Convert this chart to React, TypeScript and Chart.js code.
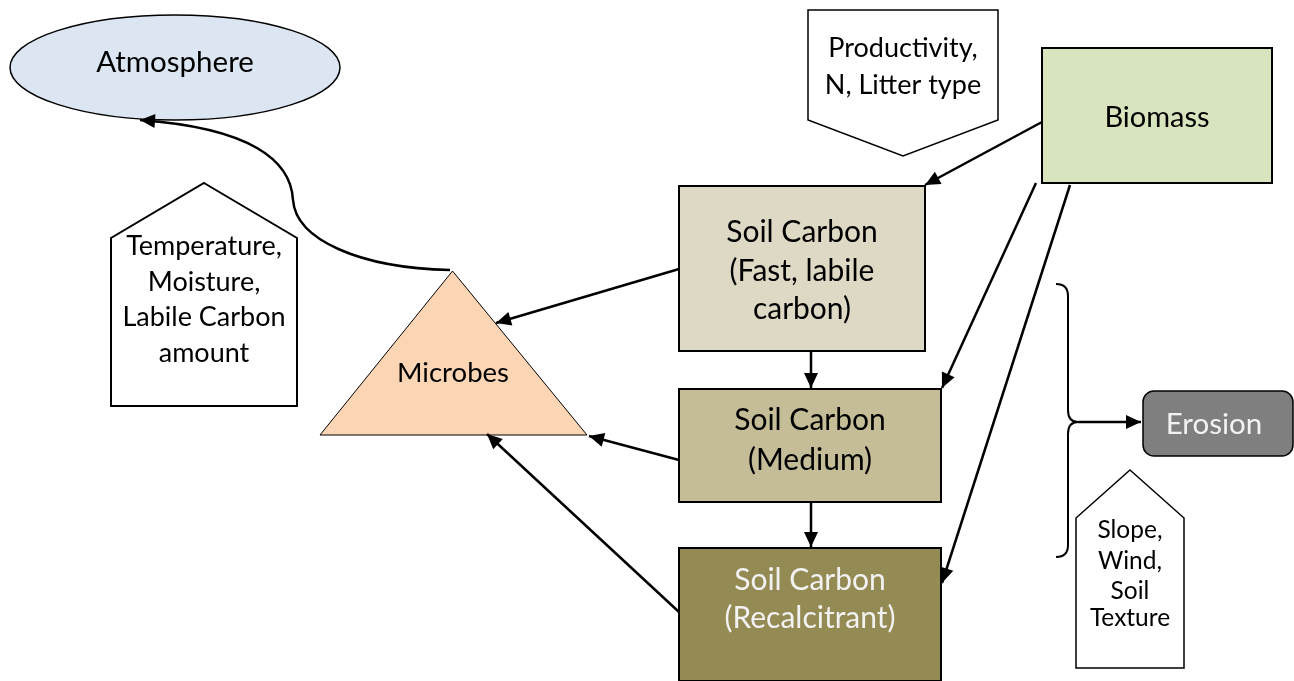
import React, { useEffect, useRef } from "react";
import { Chart, registerables } from "chart.js";

Chart.register(...registerables);

const WIDTH = 1294;
const HEIGHT = 681;

// ---- Diagram nodes (labels) ----
const nodeLabels: string[][] = [
  ["Atmosphere"],
  ["Productivity,", "N, Litter type"],
  ["Biomass"],
  ["Soil Carbon", "(Fast, labile", "carbon)"],
  ["Soil Carbon", "(Medium)"],
  ["Soil Carbon", "(Recalcitrant)"],
  ["Microbes"],
  ["Temperature,", "Moisture,", "Labile Carbon", "amount"],
  ["Slope,", "Wind,", "Soil", "Texture"],
  ["Erosion"],
];

// ---- Node layout (diagram units) ----
const nodeShape = ["ellipse", "pentDown", "rect", "rect", "rect", "rect", "triangle", "pentUp", "pentUp", "round"];
const nodeX0 = [10, 808, 1042, 679, 679, 679, 320, 111, 1076, 1143];
const nodeY0 = [15, 10, 48, 186, 389, 548, 271, 183, 470, 391];
const nodeX1 = [340, 998, 1272, 925, 941, 941, 587, 297, 1184, 1293];
const nodeY1 = [120, 156, 183, 351, 502, 681, 435, 406, 668, 456];
const nodeKnee = [0, 120, 0, 0, 0, 0, 0, 238, 518, 0];
const nodeLineY: number[][] = [
  [62],
  [48, 85],
  [118],
  [232, 271, 309],
  [420, 460],
  [580, 618],
  [373],
  [246, 282, 317, 353],
  [530, 561, 591, 618],
  [424],
];
const nodeTextX = [175, 903, 1157, 802, 810, 810, 453, 204, 1130, 1214];
const nodeFont = [29.5, 27, 29, 30, 30, 30, 27.5, 27, 24.5, 29.5];
const nodeFill = ["#dce6f2", "#ffffff", "#d7e4bd", "#ddd9c4", "#c4bd97", "#948a54", "#fcd5b5", "#ffffff", "#ffffff", "#7f7f7f"];
const nodeTextColor = ["#000", "#000", "#000", "#000", "#000", "#f2f2f2", "#000", "#000", "#000", "#f2f2f2"];
const nodeStroke = [1.5, 1.5, 2, 2, 2, 2, 1, 2, 1.5, 1.5];

// ---- Straight arrows (from -> to) ----
const edgeFromX = [1042, 1036, 1070, 811, 811, 679, 679, 679, 1078];
const edgeFromY = [122, 183, 185, 351, 502, 269, 460, 612, 422];
const edgeToX = [925, 942, 942, 811, 811, 496, 589, 487, 1141];
const edgeToY = [185, 388, 583, 388, 547, 323, 436, 434, 422];

// ---- Curved flow Microbes -> Atmosphere (cubic segments) ----
const curveX = [450, 360, 296, 293, 291, 250, 140];
const curveY = [270, 268, 240, 200, 160, 128, 120];

// ---- Brace (quadratic / line path points) ----
const braceX = [1056, 1068, 1068, 1068, 1068, 1078, 1068, 1068, 1068, 1068, 1056];
const braceY = [284, 284, 296, 410, 422, 422, 422, 434, 545, 557, 557];

export default function App() {
  const ref = useRef<HTMLCanvasElement | null>(null);

  useEffect(() => {
    if (!ref.current) return;
    const FONT = "Lato, 'Noto Sans', sans-serif";

    const arrowHead = (ctx: CanvasRenderingContext2D, fx: number, fy: number, tx: number, ty: number) => {
      const a = Math.atan2(ty - fy, tx - fx);
      const L = 15, Wd = 7;
      ctx.beginPath();
      ctx.moveTo(tx, ty);
      ctx.lineTo(tx - L * Math.cos(a) + Wd * Math.sin(a), ty - L * Math.sin(a) - Wd * Math.cos(a));
      ctx.lineTo(tx - L * Math.cos(a) - Wd * Math.sin(a), ty - L * Math.sin(a) + Wd * Math.cos(a));
      ctx.closePath();
      ctx.fillStyle = "#000";
      ctx.fill();
    };

    const diagram = {
      id: "diagram",
      beforeDatasetsDraw(chart: any) {
        const { ctx } = chart;
        const sx = (v: number) => chart.scales.x.getPixelForValue(v);
        const sy = (v: number) => chart.scales.y.getPixelForValue(v);
        ctx.save();
        ctx.fillStyle = "#fff";
        ctx.fillRect(0, 0, chart.width, chart.height);
        for (let i = 0; i < nodeShape.length; i++) {
          const x0 = sx(nodeX0[i]), x1 = sx(nodeX1[i]);
          const y0 = sy(nodeY0[i]), y1 = sy(nodeY1[i]);
          const k = sy(nodeKnee[i]);
          const cx = (x0 + x1) / 2;
          ctx.beginPath();
          switch (nodeShape[i]) {
            case "ellipse":
              ctx.ellipse(cx, (y0 + y1) / 2, (x1 - x0) / 2, (y1 - y0) / 2, 0, 0, Math.PI * 2);
              break;
            case "rect":
              ctx.rect(x0, y0, x1 - x0, y1 - y0);
              break;
            case "round":
              ctx.roundRect(x0, y0, x1 - x0, y1 - y0, 11);
              break;
            case "triangle":
              ctx.moveTo(sx((nodeX0[i] + nodeX1[i]) / 2 - 1), y0);
              ctx.lineTo(x1, y1);
              ctx.lineTo(x0, y1);
              ctx.closePath();
              break;
            case "pentDown":
              ctx.moveTo(x0, y0);
              ctx.lineTo(x1, y0);
              ctx.lineTo(x1, k);
              ctx.lineTo(cx, y1);
              ctx.lineTo(x0, k);
              ctx.closePath();
              break;
            case "pentUp":
              ctx.moveTo(cx, y0);
              ctx.lineTo(x1, k);
              ctx.lineTo(x1, y1);
              ctx.lineTo(x0, y1);
              ctx.lineTo(x0, k);
              ctx.closePath();
              break;
          }
          ctx.fillStyle = nodeFill[i];
          ctx.fill();
          ctx.lineWidth = nodeStroke[i];
          ctx.strokeStyle = "#000";
          ctx.lineJoin = "miter";
          ctx.stroke();
        }
        ctx.restore();
      },
      afterDatasetsDraw(chart: any) {
        const { ctx } = chart;
        const sx = (v: number) => chart.scales.x.getPixelForValue(v);
        const sy = (v: number) => chart.scales.y.getPixelForValue(v);
        ctx.save();
        for (let i = 0; i < edgeFromX.length; i++) {
          arrowHead(ctx, sx(edgeFromX[i]), sy(edgeFromY[i]), sx(edgeToX[i]), sy(edgeToY[i]));
        }
        ctx.beginPath();
        ctx.moveTo(sx(curveX[0]), sy(curveY[0]));
        for (let j = 1; j + 2 < curveX.length; j += 3) {
          ctx.bezierCurveTo(sx(curveX[j]), sy(curveY[j]), sx(curveX[j + 1]), sy(curveY[j + 1]), sx(curveX[j + 2]), sy(curveY[j + 2]));
        }
        ctx.lineWidth = 2.5;
        ctx.strokeStyle = "#000";
        ctx.stroke();
        const n = curveX.length;
        arrowHead(ctx, sx(curveX[n - 2]), sy(curveY[n - 2]), sx(curveX[n - 1]), sy(curveY[n - 1]));
        ctx.beginPath();
        ctx.moveTo(sx(braceX[0]), sy(braceY[0]));
        ctx.quadraticCurveTo(sx(braceX[1]), sy(braceY[1]), sx(braceX[2]), sy(braceY[2]));
        ctx.lineTo(sx(braceX[3]), sy(braceY[3]));
        ctx.quadraticCurveTo(sx(braceX[4]), sy(braceY[4]), sx(braceX[5]), sy(braceY[5]));
        ctx.quadraticCurveTo(sx(braceX[6]), sy(braceY[6]), sx(braceX[7]), sy(braceY[7]));
        ctx.lineTo(sx(braceX[8]), sy(braceY[8]));
        ctx.quadraticCurveTo(sx(braceX[9]), sy(braceY[9]), sx(braceX[10]), sy(braceY[10]));
        ctx.lineWidth = 2;
        ctx.stroke();
        ctx.textAlign = "center";
        ctx.textBaseline = "middle";
        for (let i = 0; i < nodeLabels.length; i++) {
          ctx.font = `${nodeFont[i]}px ${FONT}`;
          ctx.fillStyle = nodeTextColor[i];
          nodeLabels[i].forEach((t, j) => {
            ctx.fillText(t, sx(nodeTextX[i]), sy(nodeLineY[i][j]));
          });
        }
        ctx.restore();
      },
    };

    const edgeSets = edgeFromX.map((_, i) => ({
      type: "line" as const,
      data: [
        { x: edgeFromX[i], y: edgeFromY[i] },
        { x: edgeToX[i], y: edgeToY[i] },
      ],
      showLine: true,
      borderColor: "#000",
      borderWidth: 2.5,
      pointRadius: 0,
      fill: false,
    }));

    const chart = new Chart(ref.current, {
      type: "scatter",
      data: { datasets: edgeSets as any },
      options: {
        responsive: false,
        animation: false,
        events: [],
        layout: { padding: 0 },
        plugins: { legend: { display: false }, tooltip: { enabled: false } },
        scales: {
          x: { type: "linear", min: 0, max: WIDTH, display: false },
          y: { type: "linear", min: 0, max: HEIGHT, reverse: true, display: false },
        },
      },
      plugins: [diagram as any],
    });
    return () => chart.destroy();
  }, []);

  return (
    <div style={{ position: "fixed", left: 0, top: 0, width: WIDTH, height: HEIGHT, background: "#fff" }}>
      <canvas ref={ref} width={WIDTH} height={HEIGHT} style={{ display: "block" }} />
    </div>
  );
}
